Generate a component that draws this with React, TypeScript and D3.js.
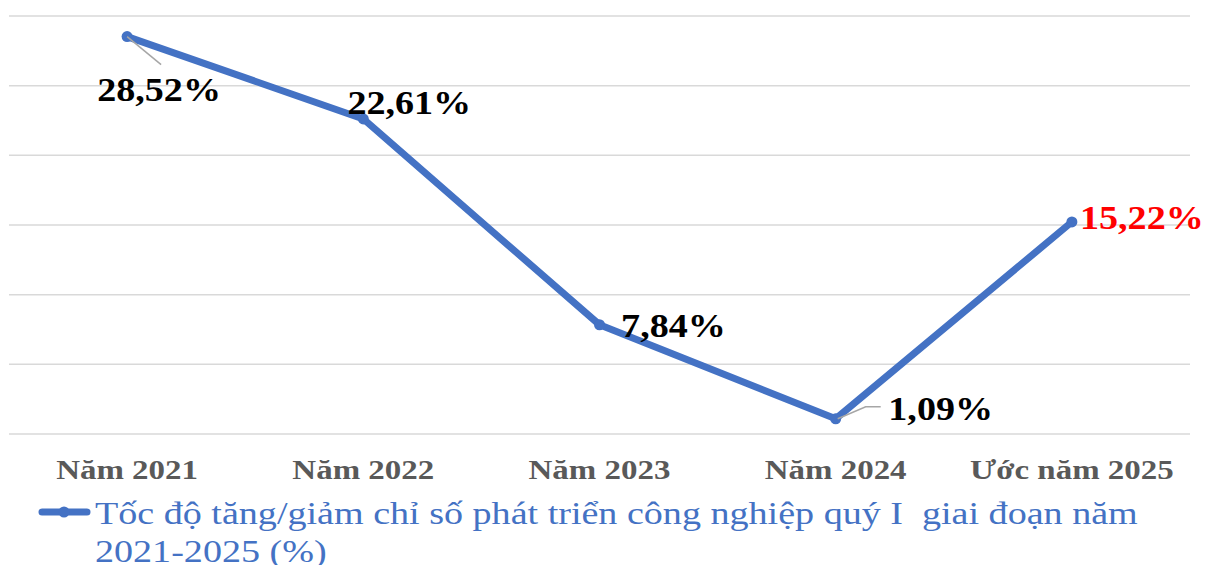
import React, { useRef, useEffect } from "react";
import * as d3 from "d3";

const categories = ["Năm 2021", "Năm 2022", "Năm 2023", "Năm 2024", "Ước năm 2025"];
const values = [28.52, 22.61, 7.84, 1.09, 15.22];
const valueLabels = ["28,52%", "22,61%", "7,84%", "1,09%", "15,22%"];
const yTicks = [0, 5, 10, 15, 20, 25, 30];
const legendLines = [
  "Tốc độ tăng/giảm chỉ số phát triển công nghiệp quý I  giai đoạn năm",
  "2021-2025 (%)",
];

// label placement relative to each point (px)
const labelOffsets = [
  { dx: 32, dy: 64, leader: true },
  { dx: 46, dy: -5, leader: false },
  { dx: 74, dy: 12, leader: false },
  { dx: 105, dy: 1, leader: true },
  { dx: 70, dy: 7, leader: false },
];

// the original text is drawn a bit wider than the font's natural width
function stretch(sel: d3.Selection<SVGTextElement, any, any, any>, k: number) {
  sel.each(function () {
    const w = this.getComputedTextLength();
    d3.select(this).attr("textLength", w * k).attr("lengthAdjust", "spacingAndGlyphs");
  });
}

export default function App() {
  const svgRef = useRef<SVGSVGElement>(null);

  useEffect(() => {
    const width = 1205;
    const height = 565;
    const plot = { left: 9, right: 1190, top: 16, bottom: 434 };
    const blue = "#4472C4";
    const font = "'Liberation Serif', 'Times New Roman', serif";

    const svg = d3.select(svgRef.current);
    svg.selectAll("*").remove();
    svg.attr("width", width).attr("height", height);

    const x = d3.scaleBand().domain(categories).range([plot.left, plot.right]);
    const y = d3.scaleLinear().domain([0, 30]).range([plot.bottom, plot.top]);
    const cx = (i: number) => (x(categories[i]) as number) + x.bandwidth() / 2;

    // gridlines
    svg
      .append("g")
      .selectAll("line")
      .data(yTicks)
      .enter()
      .append("line")
      .attr("x1", plot.left)
      .attr("x2", plot.right)
      .attr("y1", (d) => y(d))
      .attr("y2", (d) => y(d))
      .attr("stroke", "#d9d9d9")
      .attr("stroke-width", 1.5);

    // category labels
    const cats = svg
      .append("g")
      .selectAll("text")
      .data(categories)
      .enter()
      .append("text")
      .attr("x", (d, i) => cx(i))
      .attr("y", 479)
      .attr("text-anchor", "middle")
      .attr("font-family", font)
      .attr("font-weight", "bold")
      .attr("font-size", 27)
      .attr("fill", "#595959")
      .text((d) => d);
    stretch(cats as any, 1.22);

    // line
    const line = d3
      .line<number>()
      .x((d, i) => cx(i))
      .y((d) => y(d));

    svg
      .append("path")
      .datum(values)
      .attr("d", line)
      .attr("fill", "none")
      .attr("stroke", blue)
      .attr("stroke-width", 7)
      .attr("stroke-linejoin", "round")
      .attr("stroke-linecap", "round");

    svg
      .append("g")
      .selectAll("circle")
      .data(values)
      .enter()
      .append("circle")
      .attr("cx", (d, i) => cx(i))
      .attr("cy", (d) => y(d))
      .attr("r", 5.5)
      .attr("fill", blue);

    // leader lines
    values.forEach((v, i) => {
      const o = labelOffsets[i];
      if (!o.leader) return;
      const px = cx(i);
      const py = y(v);
      if (i === 0) {
        svg
          .append("line")
          .attr("x1", px)
          .attr("y1", py)
          .attr("x2", px + 34)
          .attr("y2", py + 28)
          .attr("stroke", "#a6a6a6")
          .attr("stroke-width", 1.5);
      } else {
        svg
          .append("polyline")
          .attr("points", `${px + 2},${py} ${px + 30},${py - 12} ${px + 45},${py - 12}`)
          .attr("fill", "none")
          .attr("stroke", "#a6a6a6")
          .attr("stroke-width", 1.5);
      }
    });

    // data labels
    const labels = svg
      .append("g")
      .selectAll("text")
      .data(values)
      .enter()
      .append("text")
      .attr("x", (d, i) => cx(i) + labelOffsets[i].dx)
      .attr("y", (d, i) => y(d) + labelOffsets[i].dy)
      .attr("text-anchor", "middle")
      .attr("font-family", font)
      .attr("font-weight", "bold")
      .attr("font-size", 34)
      .attr("fill", (d, i) => (i === values.length - 1 ? "#FF0000" : "#000000"))
      .text((d, i) => valueLabels[i]);
    stretch(labels as any, 1.12);

    // legend
    const lg = svg.append("g");
    lg.append("line")
      .attr("x1", 42)
      .attr("x2", 87)
      .attr("y1", 512)
      .attr("y2", 512)
      .attr("stroke", blue)
      .attr("stroke-width", 7)
      .attr("stroke-linecap", "round");
    lg.append("circle").attr("cx", 64).attr("cy", 512).attr("r", 5.5).attr("fill", blue);
    const leg = lg
      .selectAll("text")
      .data(legendLines)
      .enter()
      .append("text")
      .attr("x", 95)
      .attr("y", (d, i) => 524 + i * 38)
      .attr("font-family", font)
      .attr("font-size", 32)
      .attr("fill", blue)
      .style("white-space", "pre")
      .text((d) => d);
    stretch(leg as any, 1.19);
  }, []);

  return (
    <svg
      ref={svgRef}
      style={{ position: "absolute", left: 0, top: 0, background: "#fff" }}
    ></svg>
  );
}
